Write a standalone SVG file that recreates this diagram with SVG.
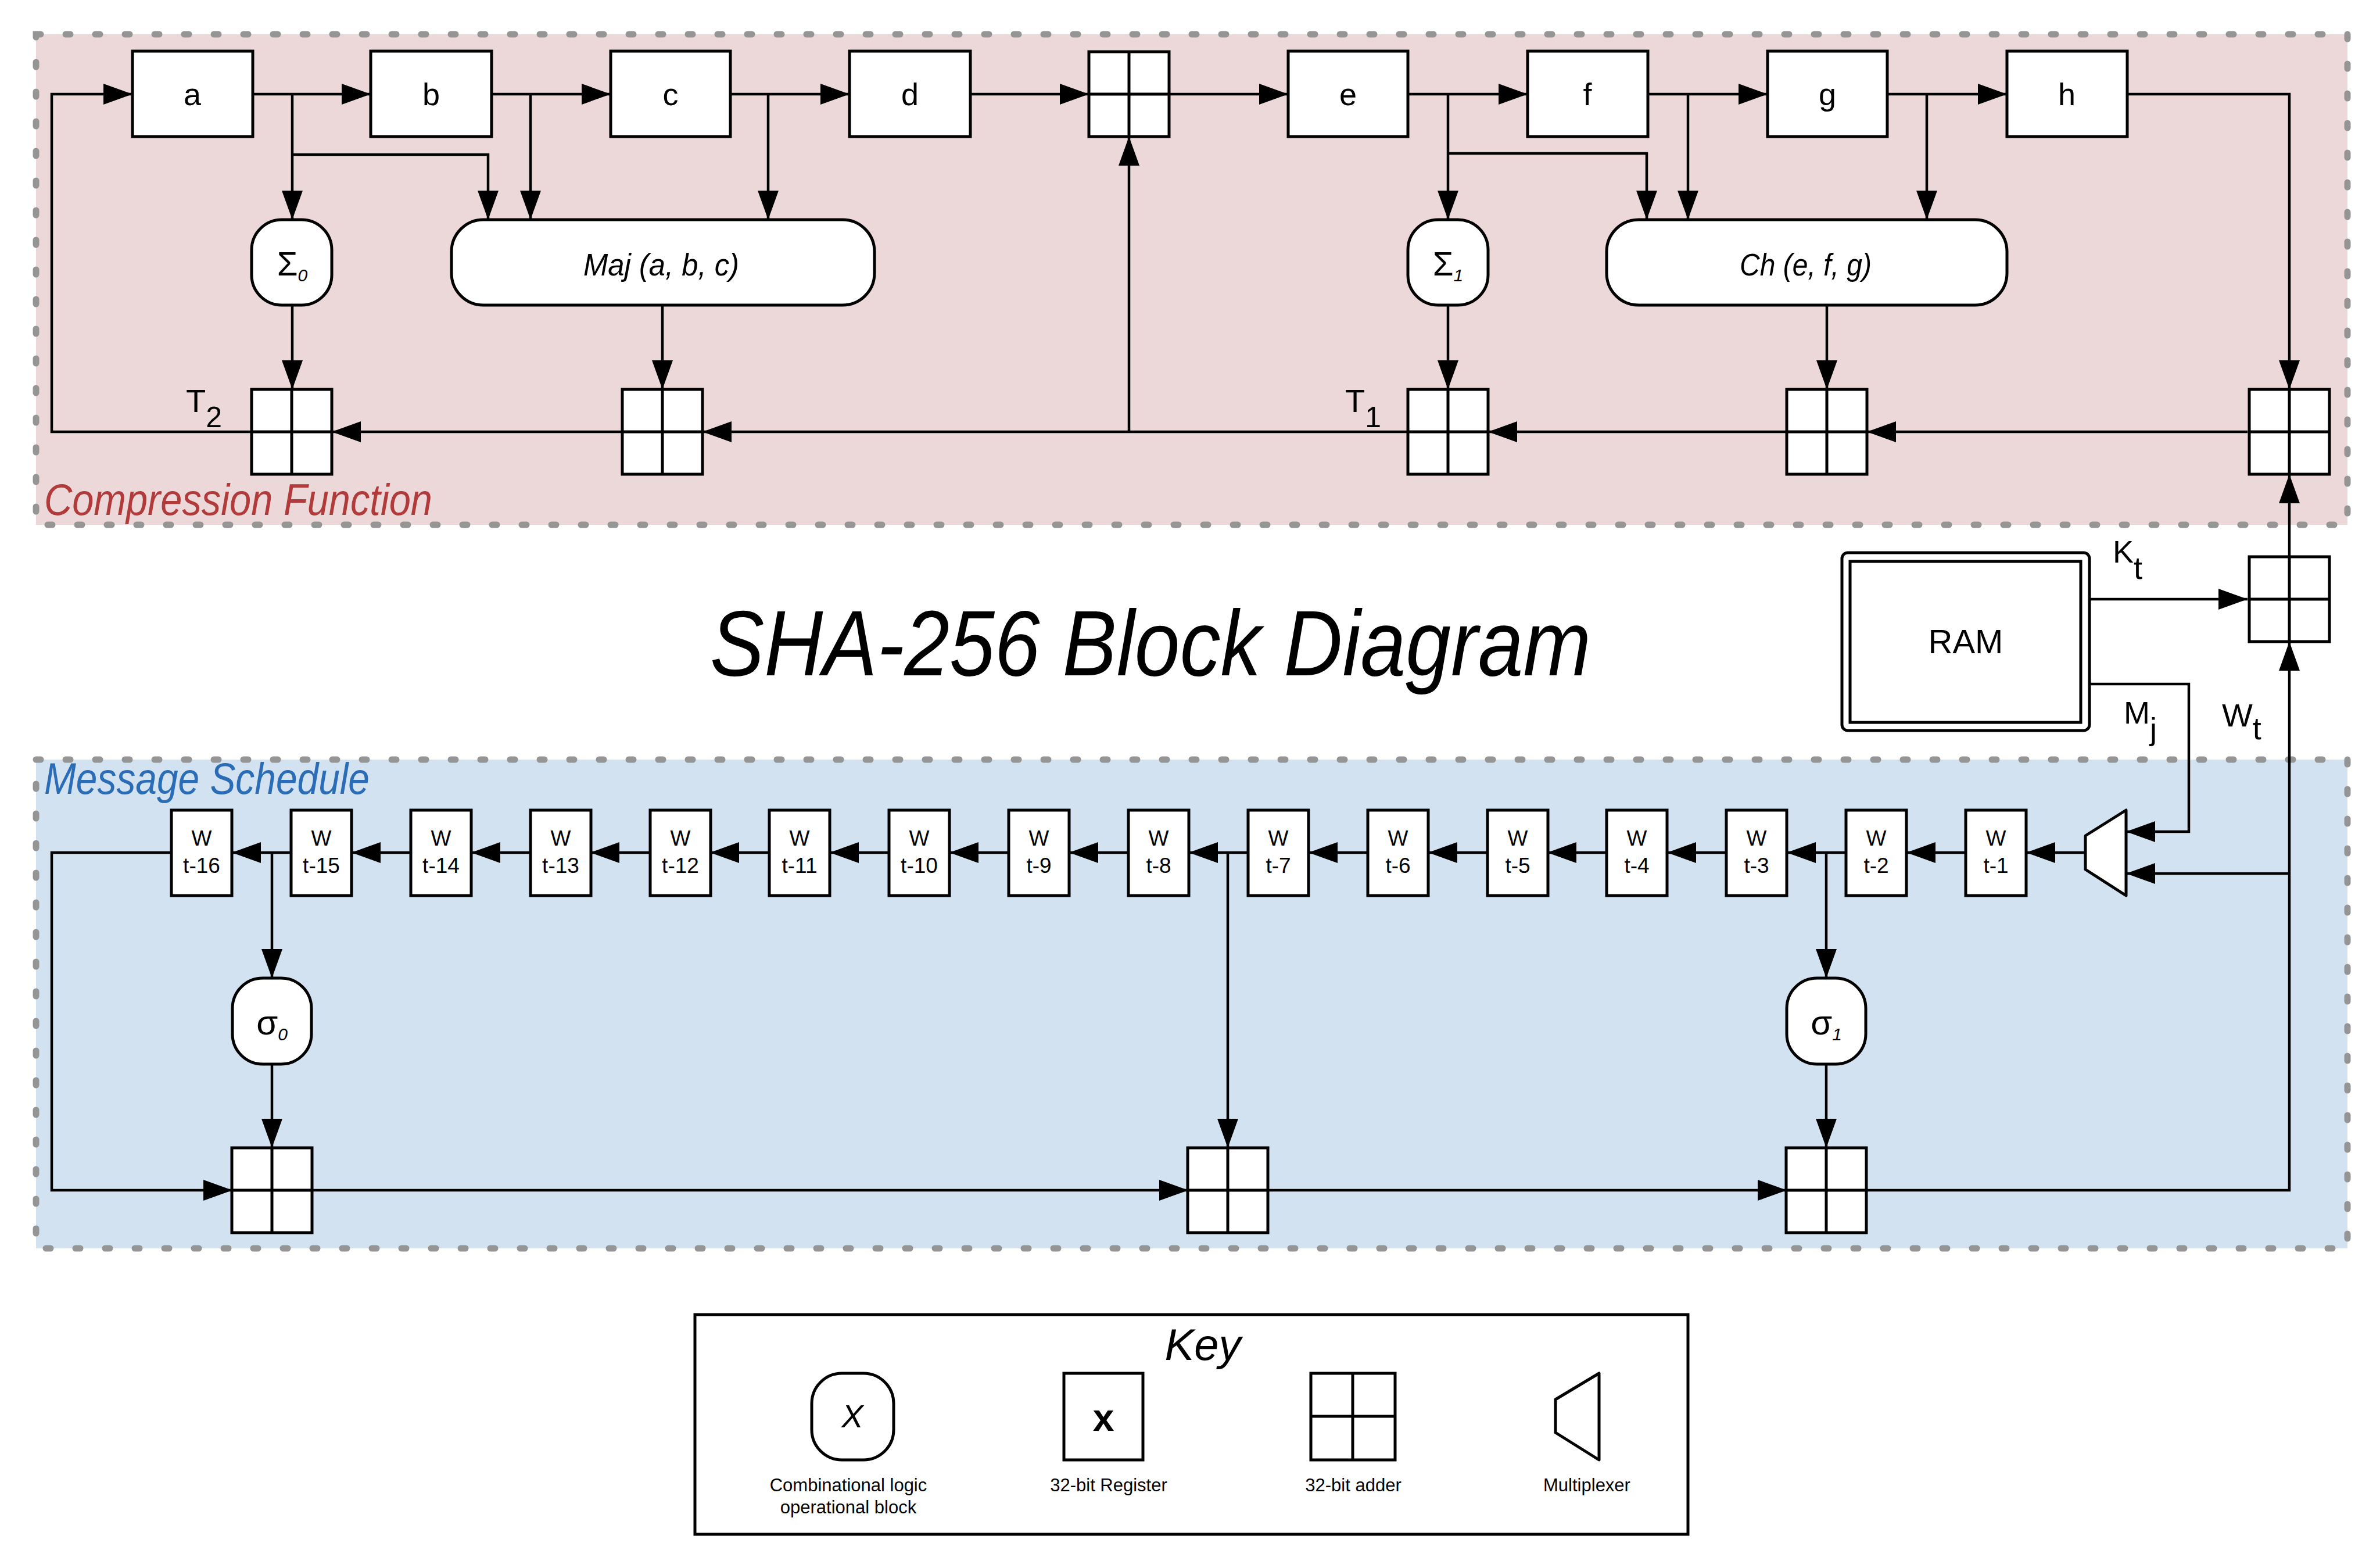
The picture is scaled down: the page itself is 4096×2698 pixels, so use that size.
<svg xmlns="http://www.w3.org/2000/svg" width="4096" height="2698" viewBox="0 0 4096 2698">
<style>
.reg{fill:#fff;stroke:#000;stroke-width:5}
.op{fill:#fff;stroke:#000;stroke-width:5}
.add{fill:#fff;stroke:#000;stroke-width:5}
.addl{stroke:#000;stroke-width:5;fill:none}
.c{fill:none;stroke:#000;stroke-width:4.5}
.ca{fill:none;stroke:#000;stroke-width:4.5;marker-end:url(#ah)}
.t{font-family:"Liberation Sans",Arial,sans-serif;fill:#000}
.lbl{font-size:54px;text-anchor:middle}
.it{font-style:italic}
.w{font-size:37px;text-anchor:middle}
.key{font-size:31px;text-anchor:middle}
.region{stroke:#959595;stroke-width:11;stroke-dasharray:8 43;stroke-linecap:round}
.red{fill:#B13B3B}
.blue{fill:#2A6CB6}
</style>
<defs>
<marker id="ah" markerUnits="userSpaceOnUse" markerWidth="50" markerHeight="36" refX="50" refY="18" orient="auto" viewBox="0 0 50 36"><path d="M0,0 L50,18 L0,36 z" fill="#000"/></marker>
<g id="adder"><rect class="add" x="0" y="0" width="138" height="146"/><path class="addl" d="M69,0 V146 M0,73 H138"/></g>
</defs>
<rect width="4096" height="2698" fill="#fff"/>
<g id="compression-region">
<rect x="62" y="59" width="3978" height="844" fill="#EDD8D9" class="region"/>
<text class="t it red" x="76" y="886" font-size="76" textLength="668" lengthAdjust="spacingAndGlyphs">Compression Function</text>
</g>
<g id="schedule-region">
<rect x="62" y="1307" width="3978" height="841" fill="#D3E2F1" class="region"/>
<text class="t it blue" x="76" y="1366" font-size="76" textLength="560" lengthAdjust="spacingAndGlyphs">Message Schedule</text>
</g>
<text id="title" class="t it" x="1222" y="1162" font-size="160" textLength="1516" lengthAdjust="spacingAndGlyphs">SHA-256 Block Diagram</text>
<g id="connectors">
<path class="ca" d="M435,162 H638"/>
<path class="ca" d="M846,162 H1051"/>
<path class="ca" d="M1257,162 H1462"/>
<path class="ca" d="M1670,162 H1874"/>
<path class="ca" d="M2012,162 H2217"/>
<path class="ca" d="M2423,162 H2629"/>
<path class="ca" d="M2836,162 H3042"/>
<path class="ca" d="M3248,162 H3454"/>
<path class="ca" d="M3661,162 H3940 V670"/>
<path class="ca" d="M503,162 V378"/>
<path class="ca" d="M503,266 H840 V378"/>
<path class="ca" d="M913,162 V378"/>
<path class="ca" d="M1322,162 V378"/>
<path class="ca" d="M503,525 V670"/>
<path class="ca" d="M1140,525 V670"/>
<path class="ca" d="M2492,162 V378"/>
<path class="ca" d="M2492,264 H2834 V378"/>
<path class="ca" d="M2905,162 V378"/>
<path class="ca" d="M3316,162 V378"/>
<path class="ca" d="M2492,525 V670"/>
<path class="ca" d="M3144,525 V670"/>
<path class="ca" d="M3868,743 H3213"/>
<path class="ca" d="M3075,743 H2561"/>
<path class="ca" d="M2423,743 H1209"/>
<path class="ca" d="M1943,743 V235"/>
<path class="ca" d="M1071,743 H571"/>
<path class="ca" d="M433,743 H89 V162 H228"/>
<path class="ca" d="M3940,958 V816"/>
<path class="ca" d="M3596,1031 H3868"/>
<path class="ca" d="M3596,1177 H3767 V1431 H3659"/>
<path class="ca" d="M3211,2048 H3940 V1104"/>
<path class="ca" d="M3940,1503 H3659"/>
<path class="ca" d="M3589,1467 H3487"/>
<path class="ca" d="M3383,1467 H3281"/>
<path class="ca" d="M3177,1467 H3075"/>
<path class="ca" d="M2971,1467 H2869"/>
<path class="ca" d="M2765,1467 H2663"/>
<path class="ca" d="M2560,1467 H2458"/>
<path class="ca" d="M2354,1467 H2252"/>
<path class="ca" d="M2148,1467 H2046"/>
<path class="ca" d="M1942,1467 H1840"/>
<path class="ca" d="M1736,1467 H1634"/>
<path class="ca" d="M1530,1467 H1428"/>
<path class="ca" d="M1324,1467 H1222"/>
<path class="ca" d="M1119,1467 H1016"/>
<path class="ca" d="M913,1467 H811"/>
<path class="ca" d="M707,1467 H605"/>
<path class="ca" d="M501,1467 H399"/>
<path class="ca" d="M468,1467 V1683"/>
<path class="ca" d="M2113,1467 V1975"/>
<path class="ca" d="M3143,1467 V1683"/>
<path class="ca" d="M468,1831 V1975"/>
<path class="ca" d="M3143,1831 V1975"/>
<path class="ca" d="M295,1467 H89 V2048 H400"/>
<path class="ca" d="M536,2048 H2045"/>
<path class="ca" d="M2181,2048 H3075"/>
</g>
<g id="reg-a"><rect class="reg" x="228" y="88" width="207" height="147"/><text class="t lbl" x="331" y="181">a</text></g>
<g id="reg-b"><rect class="reg" x="638" y="88" width="208" height="147"/><text class="t lbl" x="742" y="181">b</text></g>
<g id="reg-c"><rect class="reg" x="1051" y="88" width="206" height="147"/><text class="t lbl" x="1154" y="181">c</text></g>
<g id="reg-d"><rect class="reg" x="1462" y="88" width="208" height="147"/><text class="t lbl" x="1566" y="181">d</text></g>
<g id="reg-e"><rect class="reg" x="2217" y="88" width="206" height="147"/><text class="t lbl" x="2320" y="181">e</text></g>
<g id="reg-f"><rect class="reg" x="2629" y="88" width="207" height="147"/><text class="t lbl" x="2732" y="181">f</text></g>
<g id="reg-g"><rect class="reg" x="3042" y="88" width="206" height="147"/><text class="t lbl" x="3145" y="181">g</text></g>
<g id="reg-h"><rect class="reg" x="3454" y="88" width="207" height="147"/><text class="t lbl" x="3557" y="181">h</text></g>
<g id="adder-top"><use href="#adder" x="1874" y="89"/></g>
<g id="sigma0"><rect class="op" x="433" y="378" width="138" height="147" rx="52"/><text class="t" x="503" y="474" font-size="58" text-anchor="middle">Σ<tspan class="it" font-size="30" dy="10">0</tspan></text></g>
<g id="maj"><rect class="op" x="777" y="378" width="728" height="147" rx="55"/><text class="t it" x="1004" y="474" font-size="54" textLength="268" lengthAdjust="spacingAndGlyphs">Maj (a, b, c)</text></g>
<g id="sigma1"><rect class="op" x="2423" y="378" width="138" height="147" rx="52"/><text class="t" x="2492" y="474" font-size="58" text-anchor="middle">Σ<tspan class="it" font-size="30" dy="10">1</tspan></text></g>
<g id="ch"><rect class="op" x="2765" y="378" width="689" height="147" rx="55"/><text class="t it" x="2994" y="474" font-size="54" textLength="227" lengthAdjust="spacingAndGlyphs">Ch (e, f, g)</text></g>
<g id="adder-t2"><use href="#adder" x="433" y="670"/><text class="t" x="320" y="709" font-size="56">T<tspan font-size="50" dy="26">2</tspan></text></g>
<g id="adder-maj"><use href="#adder" x="1071" y="670"/></g>
<g id="adder-t1"><use href="#adder" x="2423" y="670"/><text class="t" x="2315" y="709" font-size="56">T<tspan font-size="50" dy="26">1</tspan></text></g>
<g id="adder-ch"><use href="#adder" x="3075" y="670"/></g>
<g id="adder-h"><use href="#adder" x="3871" y="670"/></g>
<g id="ram"><rect x="3170" y="951" width="426" height="306" rx="10" fill="#fff" stroke="#000" stroke-width="5"/><rect x="3184" y="966" width="397" height="277" fill="none" stroke="#000" stroke-width="5"/><text class="t" x="3383" y="1124" font-size="58" text-anchor="middle">RAM</text></g>
<g id="adder-k"><use href="#adder" x="3871" y="958"/></g>
<text class="t" x="3636" y="968" font-size="54">K<tspan font-size="54" dy="28">t</tspan></text>
<text class="t" x="3655" y="1245" font-size="54">M<tspan font-size="54" dy="28">j</tspan></text>
<text class="t" x="3824" y="1250" font-size="56">W<tspan font-size="54" dy="22">t</tspan></text>
<g id="mux"><polygon points="3659,1394 3659,1541 3589,1496 3589,1438" fill="#fff" stroke="#000" stroke-width="5" stroke-linejoin="round"/></g>
<g id="w-registers">
<g id="w-t16"><rect class="reg" x="295" y="1394" width="104" height="147"/><text class="t w" x="347" y="1455">W</text><text class="t w" x="347" y="1502">t-16</text></g>
<g id="w-t15"><rect class="reg" x="501" y="1394" width="104" height="147"/><text class="t w" x="553" y="1455">W</text><text class="t w" x="553" y="1502">t-15</text></g>
<g id="w-t14"><rect class="reg" x="707" y="1394" width="104" height="147"/><text class="t w" x="759" y="1455">W</text><text class="t w" x="759" y="1502">t-14</text></g>
<g id="w-t13"><rect class="reg" x="913" y="1394" width="104" height="147"/><text class="t w" x="965" y="1455">W</text><text class="t w" x="965" y="1502">t-13</text></g>
<g id="w-t12"><rect class="reg" x="1119" y="1394" width="104" height="147"/><text class="t w" x="1171" y="1455">W</text><text class="t w" x="1171" y="1502">t-12</text></g>
<g id="w-t11"><rect class="reg" x="1324" y="1394" width="104" height="147"/><text class="t w" x="1376" y="1455">W</text><text class="t w" x="1376" y="1502">t-11</text></g>
<g id="w-t10"><rect class="reg" x="1530" y="1394" width="104" height="147"/><text class="t w" x="1582" y="1455">W</text><text class="t w" x="1582" y="1502">t-10</text></g>
<g id="w-t9"><rect class="reg" x="1736" y="1394" width="104" height="147"/><text class="t w" x="1788" y="1455">W</text><text class="t w" x="1788" y="1502">t-9</text></g>
<g id="w-t8"><rect class="reg" x="1942" y="1394" width="104" height="147"/><text class="t w" x="1994" y="1455">W</text><text class="t w" x="1994" y="1502">t-8</text></g>
<g id="w-t7"><rect class="reg" x="2148" y="1394" width="104" height="147"/><text class="t w" x="2200" y="1455">W</text><text class="t w" x="2200" y="1502">t-7</text></g>
<g id="w-t6"><rect class="reg" x="2354" y="1394" width="104" height="147"/><text class="t w" x="2406" y="1455">W</text><text class="t w" x="2406" y="1502">t-6</text></g>
<g id="w-t5"><rect class="reg" x="2560" y="1394" width="104" height="147"/><text class="t w" x="2612" y="1455">W</text><text class="t w" x="2612" y="1502">t-5</text></g>
<g id="w-t4"><rect class="reg" x="2765" y="1394" width="104" height="147"/><text class="t w" x="2817" y="1455">W</text><text class="t w" x="2817" y="1502">t-4</text></g>
<g id="w-t3"><rect class="reg" x="2971" y="1394" width="104" height="147"/><text class="t w" x="3023" y="1455">W</text><text class="t w" x="3023" y="1502">t-3</text></g>
<g id="w-t2"><rect class="reg" x="3177" y="1394" width="104" height="147"/><text class="t w" x="3229" y="1455">W</text><text class="t w" x="3229" y="1502">t-2</text></g>
<g id="w-t1"><rect class="reg" x="3383" y="1394" width="104" height="147"/><text class="t w" x="3435" y="1455">W</text><text class="t w" x="3435" y="1502">t-1</text></g>
</g>
<g id="lsigma0"><rect class="op" x="400" y="1683" width="136" height="148" rx="52"/><text class="t" x="468" y="1780" font-size="60" text-anchor="middle">σ<tspan class="it" font-size="30" dy="10">0</tspan></text></g>
<g id="lsigma1"><rect class="op" x="3075" y="1683" width="136" height="148" rx="52"/><text class="t" x="3143" y="1780" font-size="60" text-anchor="middle">σ<tspan class="it" font-size="30" dy="10">1</tspan></text></g>
<g id="adder-s0"><use href="#adder" x="399" y="1975"/></g>
<g id="adder-s7"><use href="#adder" x="2044" y="1975"/></g>
<g id="adder-s1"><use href="#adder" x="3074" y="1975"/></g>
<g id="key">
<rect x="1196" y="2262" width="1709" height="378" fill="#fff" stroke="#000" stroke-width="5"/>
<text class="t it" x="2070" y="2340" font-size="76" text-anchor="middle">Key</text>
<rect class="op" x="1397" y="2363" width="141" height="149" rx="52"/>
<text class="t it" x="1467" y="2456" font-size="56" text-anchor="middle">X</text>
<text class="t key" x="1460" y="2566">Combinational logic</text>
<text class="t key" x="1460" y="2604">operational block</text>
<rect class="reg" x="1831" y="2363" width="136" height="149"/>
<text class="t" x="1899" y="2462" font-size="66" font-weight="bold" text-anchor="middle">x</text>
<text class="t key" x="1908" y="2566">32-bit Register</text>
<rect class="add" x="2256" y="2363" width="145" height="149"/>
<path class="addl" d="M2328,2363 V2512 M2256,2437 H2401"/>
<text class="t key" x="2329" y="2566">32-bit adder</text>
<polygon points="2752,2363 2752,2512 2677,2465 2677,2408" fill="#fff" stroke="#000" stroke-width="5" stroke-linejoin="round"/>
<text class="t key" x="2731" y="2566">Multiplexer</text>
</g>
</svg>
